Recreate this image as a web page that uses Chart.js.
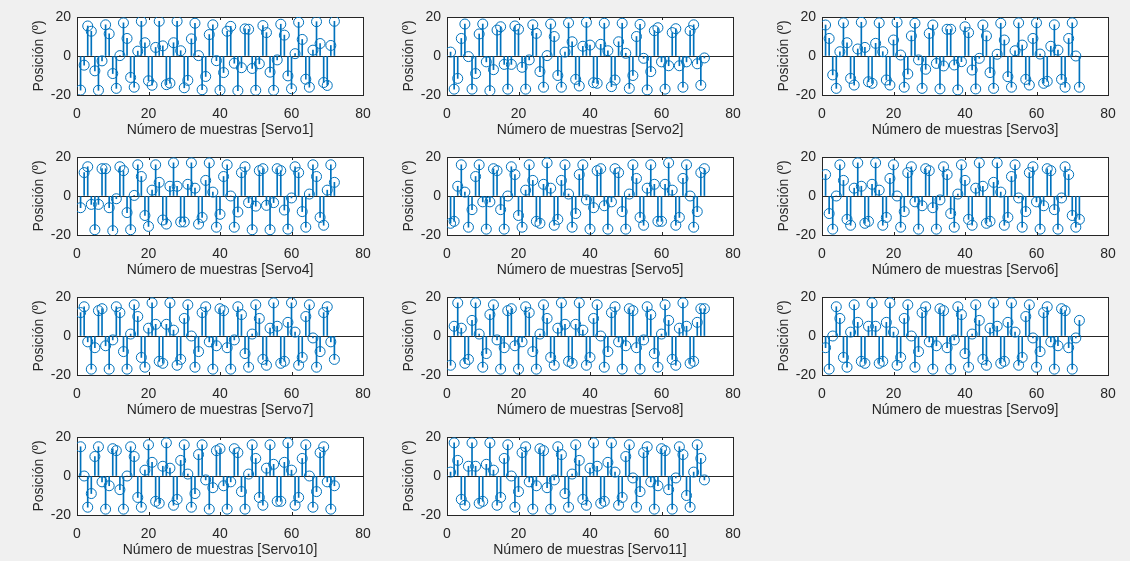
<!DOCTYPE html>
<html>
<head>
<meta charset="utf-8">
<script src="https://cdn.jsdelivr.net/npm/chart.js@4.4.0/dist/chart.umd.min.js"></script>
<style>
  html, body { margin: 0; padding: 0; background: #f0f0f0; }
  #fig { position: relative; width: 1130px; height: 561px; overflow: hidden; }
  #fig canvas { position: absolute; }
</style>
</head>
<body>
<div id="fig"></div>
<script>
// valores (posicion en grados por muestra)
const servo1 = [-17.5,-4.7,15.4,12.7,-7.6,-17.6,-2.5,16,11.4,-9,-16.6,0.2,17,9,-11,-16,2.5,17.8,6.8,-12.7,-15,4.4,17.8,5.2,-14.7,-13.9,6.8,17.8,2.7,-16.3,-12.5,8.8,16.8,0.2,-17.3,-10.5,11,16,-2.4,-17.6,-8.5,12.7,15.2,-3.7,-17.8,-6,13.9,13.7,-6.4,-17.6,-4,15.6,12,-8.3,-17.6,-2,16.3,10.7,-10.2,-16.8,1.2,17.3,8.5,-11.9,-16,3,17.6,6.4,-13.6,-15.1,5.4,17.8];
const servo2 = [2,-17,-11.5,9,16.4,-0.3,-17,-9,11.3,16.4,-3,-17.8,-7,13.3,15,-4.3,-17,-4.3,15.4,13.7,-5.8,-17,-2,16,11.6,-8,-16,0.2,16.4,10,-10,-16,2,17,7.3,-12,-15.4,5,17.3,5.6,-13.7,-14,6,16.8,2.7,-15.7,-12.3,7.3,16.8,1.4,-16.6,-10,10,16.2,-1.2,-17.4,-8,13,14.5,-3,-17,-5,12,14,-5,-16,-3,13,16,-4,-15,-1];
const servo3 = [15.9,9,-9.7,-16.6,2.2,17,6.8,-11.5,-14.9,3.6,17.3,4.4,-13.2,-14,6.5,17,2.2,-12.3,-14.9,8.2,17.3,0.5,-16,-9.2,10.3,16.8,-2,-16.6,-6.8,11.6,15.9,-3.8,-16.9,-5.1,13.7,13.7,-4.6,-17.4,-2.9,15,12,-7.2,-16.9,-1.2,15.9,10.3,-8.5,-16.6,0.9,16.8,8.2,-10.6,-16,2.7,17,5.6,-12,-14.9,9,17,1,-14,-13,5,16,3,-12,-16,9,17,0,-16];
const servo4 = [-6,12,15,-4.3,-17.3,-4.3,14,14,-6,-17.8,-1.4,15,13,-8.5,-17.3,0.3,16,10,-10,-15.6,3,16,7,-12.3,-14.4,5,17,5,-13.3,-13.3,6,17,4,-14.4,-11,8,17,2,-16,-9.4,10,16,0,-16,-8.2,12,15,-3.4,-17.3,-5.2,13,14,-4.8,-17.3,-3.4,14,13,-7.2,-17,-1,15,12,-8,-16,1,16,10,-11,-15,3,16,7];
const servo5 = [-14,-13,5,16,2,-16,-7,10,16,-3,-17,-3,14,13,-7,-17,0,15,11,-10,-16,3,16,8,-13,-14,6,17,4,-15,-12,8,16,1,-16,-9,11,16,-2,-17,-6,13,14,-5,-17,-3,14,12,-8,-17,1,16,9,-11,-15,4,16,6,-13,-13,6,17,3,-15,-11,9,16,0,-16,-8,12,14];
const servo6 = [11,-9,-17,0,16,8,-12,-15,4,17,5,-14,-13,6,17,3,-15,-11,9,16,0,-16,-8,12,15,-3,-17,-5,14,13,-6,-17,-2,15,11,-9,-16,1,16,8,-12,-15,4,17,5,-14,-13,7,17,2,-15,-11,10,16,-1,-16,-8,12,15,-3,-17,-5,14,13,-7,-17,-1,15,11,-10,-16,-12];
const servo7 = [12,15,-3,-17,-6,13,14,-5,-17,-2,15,12,-8,-17,1,16,10,-11,-16,4,17,6,-13,-14,6,17,3,-15,-12,9,16,0,-16,-8,12,15,-3,-17,-5,14,13,-6,-17,-2,15,11,-9,-16,1,16,9,-12,-15,4,17,5,-14,-13,7,17,2,-15,-11,10,16,-1,-16,-8,12,15,-3,-12];
const servo8 = [-15,5,17,4,-14,-12,8,17,1,-16,-9,11,16,-2,-17,-6,13,14,-5,-17,-3,15,12,-8,-17,1,16,9,-11,-15,4,17,6,-13,-14,6,17,3,-15,-11,9,16,0,-16,-8,12,15,-3,-17,-5,14,13,-6,-17,-2,15,11,-9,-16,1,16,8,-12,-15,4,17,5,-14,-13,7,14,14];
const servo9 = [-6,-17,0,15,9,-11,-16,2,16,7,-13,-14,5,17,5,-14,-13,7,17,2,-15,-11,9,16,0,-16,-8,12,15,-3,-17,-5,14,13,-6,-17,-2,15,11,-9,-16,1,16,8,-12,-15,4,17,5,-14,-13,7,17,2,-15,-11,10,16,-1,-16,-8,12,15,-3,-17,-5,14,13,-6,-17,-1,8];
const servo10 = [15,0,-16,-9,10,15,-3,-17,-5,14,13,-7,-17,0,15,10,-11,-16,3,16,7,-13,-14,5,17,4,-15,-12,8,16,1,-16,-9,11,16,-2,-17,-6,13,14,-5,-17,-3,14,12,-8,-17,1,16,9,-11,-15,4,16,6,-13,-13,7,17,3,-15,-11,9,16,0,-16,-8,12,15,-3,-17,-5];
const servo11 = [2,17,8,-12,-15,5,17,5,-14,-13,6,17,3,-15,-11,9,16,0,-16,-8,12,15,-3,-17,-5,14,13,-6,-17,-2,15,11,-9,-16,1,16,8,-12,-15,4,17,5,-14,-13,7,17,2,-15,-11,10,16,-1,-16,-8,12,15,-3,-17,-5,14,13,-7,-17,-1,15,11,-10,-16,2,16,9,-2];

const servoNames = ['Servo1','Servo2','Servo3','Servo4','Servo5','Servo6','Servo7','Servo8','Servo9','Servo10','Servo11'];
const servoData = [servo1, servo2, servo3, servo4, servo5, servo6, servo7, servo8, servo9, servo10, servo11];
const xTicks = [0, 20, 40, 60, 80];
const yTicks = [-20, 0, 20];
const xLabel = 'Número de muestras';
const yLabel = 'Posición (º)';

const FONT = "'Liberation Sans', Arial, sans-serif";
const AXIS = '#262626';
const STEM = '#0072BD';

// fondo blanco del area de ejes + marcas de tick hacia dentro (estilo MATLAB)
const matlabAxes = {
  id: 'matlabAxes',
  beforeDraw(chart) {
    const { ctx, chartArea: a } = chart;
    ctx.save();
    ctx.fillStyle = '#ffffff';
    ctx.fillRect(a.left, a.top, a.right - a.left, a.bottom - a.top);
    ctx.restore();
  },
  afterDraw(chart) {
    const { ctx, chartArea: a, scales } = chart;
    ctx.save();
    ctx.strokeStyle = AXIS;
    ctx.lineWidth = 1;
    ctx.beginPath();
    xTicks.forEach(v => {
      const px = Math.round(scales.x.getPixelForValue(v)) + 0.5;
      ctx.moveTo(px, a.bottom); ctx.lineTo(px, a.bottom - 3);
      ctx.moveTo(px, a.top); ctx.lineTo(px, a.top + 3);
    });
    yTicks.forEach(v => {
      const py = Math.round(scales.y.getPixelForValue(v)) + 0.5;
      ctx.moveTo(a.left, py); ctx.lineTo(a.left + 3, py);
      ctx.moveTo(a.right, py); ctx.lineTo(a.right - 3, py);
    });
    ctx.stroke();
    ctx.restore();
  }
};

const fig = document.getElementById('fig');

function makeAxes(idx) {
  const col = idx % 3, row = Math.floor(idx / 3);
  const canvas = document.createElement('canvas');
  canvas.width = 375; canvas.height = 140;
  canvas.style.left = [0, 370, 745][col] + 'px';
  canvas.style.top = (row * 140) + 'px';
  fig.appendChild(canvas);

  const pts = servoData[idx].map((v, i) => ({ x: i + 1, y: v }));

  return new Chart(canvas.getContext('2d'), {
    type: 'scatter',
    data: {
      datasets: [
        {
          type: 'bar',
          data: pts,
          backgroundColor: STEM,
          barThickness: 1,
          borderWidth: 0,
          order: 2
        },
        {
          type: 'scatter',
          data: pts,
          pointRadius: 5,
          pointBorderWidth: 1,
          borderColor: STEM,
          backgroundColor: 'rgba(0,0,0,0)',
          order: 1
        }
      ]
    },
    options: {
      responsive: false,
      animation: false,
      devicePixelRatio: 1,
      events: [],
      layout: { padding: { left: 0, top: 17, right: 12, bottom: 0 } },
      plugins: { legend: { display: false }, tooltip: { enabled: false } },
      scales: {
        x: {
          type: 'linear', position: 'bottom', min: 0, max: 80, offset: false,
          afterBuildTicks: s => { s.ticks = xTicks.map(v => ({ value: v })); },
          ticks: { color: AXIS, font: { family: FONT, size: 14 }, padding: 11, maxRotation: 0 },
          grid: { display: false, drawTicks: false, offset: false },
          border: { display: true, color: AXIS, width: 1 },
          title: {
            display: true, text: xLabel + ' [' + servoNames[idx] + ']',
            color: AXIS, font: { family: FONT, size: 14 }, padding: { top: 0, bottom: 1 }
          },
          afterFit: s => { s.height = 45; s.paddingLeft = 0; s.paddingRight = 0; }
        },
        y: {
          type: 'linear', position: 'left', min: -20, max: 20,
          afterBuildTicks: s => { s.ticks = yTicks.map(v => ({ value: v })); },
          ticks: { color: AXIS, font: { family: FONT, size: 14 }, padding: 6 },
          grid: {
            drawTicks: false,
            color: c => (c.tick && c.tick.value === 0 ? AXIS : 'rgba(0,0,0,0)')
          },
          border: { display: true, color: AXIS, width: 1 },
          title: {
            display: true, text: yLabel,
            color: AXIS, font: { family: FONT, size: 14 }, padding: { top: 31, bottom: 0 }
          },
          afterFit: s => { s.width = 77; s.paddingTop = 0; s.paddingBottom = 0; }
        },
        xTop: {
          type: 'linear', position: 'top', min: 0, max: 80,
          ticks: { display: false }, grid: { display: false, drawTicks: false },
          border: { display: true, color: AXIS, width: 1 },
          afterFit: s => { s.height = 0; s.paddingLeft = 0; s.paddingRight = 0; }
        },
        yRight: {
          type: 'linear', position: 'right', min: -20, max: 20,
          ticks: { display: false }, grid: { display: false, drawTicks: false },
          border: { display: true, color: AXIS, width: 1 },
          afterFit: s => { s.width = 0; s.paddingTop = 0; s.paddingBottom = 0; }
        }
      }
    },
    plugins: [matlabAxes]
  });
}

servoData.forEach((d, i) => makeAxes(i));
</script>
</body>
</html>
